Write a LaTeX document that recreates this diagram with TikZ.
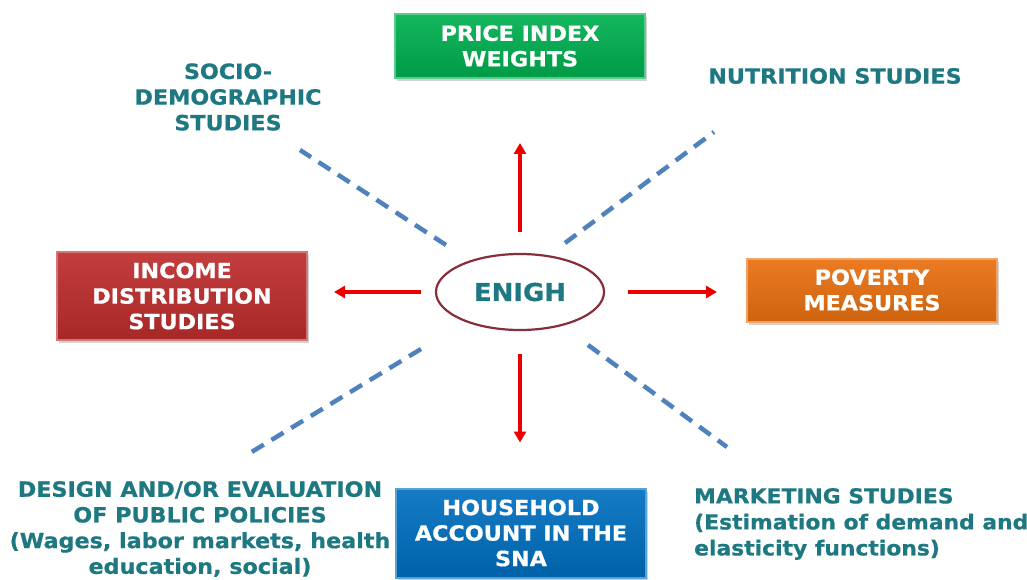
\documentclass[tikz,border=0pt]{standalone}
\usepackage{fontspec}
\setmainfont{DejaVu Sans}[FakeStretch=1.06, BoldFeatures={FakeBold=0.7}]
\usetikzlibrary{shapes.geometric,arrows.meta,shadows}

\definecolor{tealtxt}{RGB}{30,120,130}
\definecolor{dashblue}{RGB}{79,129,189}
\definecolor{ringred}{RGB}{135,45,60}
\definecolor{arrred}{RGB}{235,0,0}
\definecolor{boxgreen}{RGB}{0,176,80}
\definecolor{boxred}{RGB}{190,45,45}
\definecolor{boxorange}{RGB}{234,112,16}
\definecolor{boxblue}{RGB}{0,112,192}

\newcommand\boxfont{\fontsize{21}{25.5}\selectfont\bfseries}
\newcommand\topicfont{\fontsize{21}{25.7}\selectfont\bfseries}

\tikzset{
  box/.style={draw=#1!65!white, line width=2pt, top color=#1!92!white,
    bottom color=#1!88!black, minimum width=250pt, inner sep=0pt,
    text=white, align=center, font=\boxfont,
    drop shadow={shadow xshift=2pt, shadow yshift=-3pt, opacity=0.35}},
  topic/.style={text=tealtxt, font=\topicfont, align=center, inner sep=0pt},
  hub/.style={ellipse, draw=ringred, line width=2.2pt, fill=white,
    minimum width=168pt, minimum height=76pt, text=tealtxt,
    font=\fontsize{24.5}{28}\selectfont\bfseries},
  arr/.style={-{Triangle[width=12pt,length=11pt]}, arrred, line width=3.5pt},
  link/.style={dashblue, line width=4.5pt, dash pattern=on 14pt off 9pt}
}

\begin{document}
\begin{tikzpicture}[x=1pt,y=-1pt]
\useasboundingbox (0,0) rectangle (1027,580);

% centre
\node[hub] (enigh) at (520,292) {ENIGH};

% coloured boxes
\node[box=boxgreen, minimum height=64pt] (price) at (520,46) {PRICE INDEX\\WEIGHTS};
\node[box=boxred, minimum height=88pt] (income) at (182,296) {INCOME\\DISTRIBUTION\\STUDIES};
\node[box=boxorange, minimum height=63pt] (poverty) at (872,290) {POVERTY\\MEASURES};
\node[box=boxblue, minimum height=89pt] (house) at (521,533) {HOUSEHOLD\\ACCOUNT IN THE\\SNA};

% plain topics
\node[topic] (socio) at (228,97) {SOCIO-\\DEMOGRAPHIC\\STUDIES};
\node[topic] (nutri) at (835,76) {NUTRITION STUDIES};
\node[topic] (policy) at (200,529) {DESIGN AND/OR EVALUATION\\OF PUBLIC POLICIES\\(Wages, labor markets, health\\education, social)};
\node[topic, align=left, anchor=west, font=\fontsize{20.6}{26}\selectfont\bfseries] (market) at (694,524) {MARKETING STUDIES\\(Estimation of demand and\\elasticity functions)};

% red arrows
\draw[arr, shorten <=21pt, shorten >=64pt] (enigh.north) -- (price.south);
\draw[arr, shorten <=23pt, shorten >=45pt] (enigh.south) -- (house.north -| enigh.south);
\draw[arr, shorten <=14pt, shorten >=26pt] (enigh.west) -- (income.east |- enigh.west);
\draw[arr, shorten <=23pt, shorten >=29pt] (enigh.east) -- (poverty.west |- enigh.east);

% dashed rays
\coordinate (ulin) at (446,245); \coordinate (ulout) at (300,150);
\coordinate (urin) at (565,243); \coordinate (urout) at (714,132);
\coordinate (llin) at (421,349); \coordinate (llout) at (250,453);
\coordinate (lrin) at (588,345); \coordinate (lrout) at (727,447);
\draw[link] (ulin) -- (ulout);
\draw[link] (urin) -- (urout);
\draw[link] (llin) -- (llout);
\draw[link] (lrin) -- (lrout);
\end{tikzpicture}
\end{document}
